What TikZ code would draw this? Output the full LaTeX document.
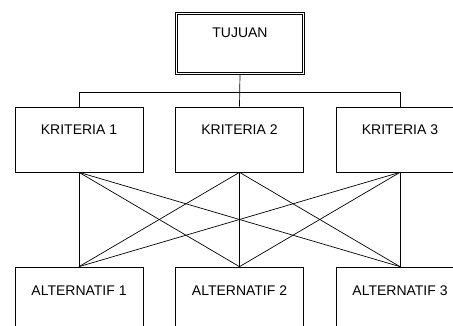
\documentclass[tikz,border=0pt]{standalone}
\usepackage{fontspec}
\setmainfont{Liberation Sans}
\begin{document}
\begin{tikzpicture}[x=1pt, y=-1pt, line width=0.7pt,
	kotak/.style={draw, minimum width=128pt, minimum height=65pt, inner sep=0pt,
		text height=10pt, text depth=19pt, font=\fontsize{14}{16}\selectfont}]
		\useasboundingbox (0,0) rectangle (453,326);
		\clip (0,0) rectangle (453,326);
		
		\node [kotak, double, double distance=1.6pt, minimum width=127pt, minimum height=60pt, text depth=21pt] (tujuan) at (240,43.5) {TUJUAN};
		
		\node [kotak] (k1) at (79,139.5) {KRITERIA 1};
		\node [kotak] (k2) at (239.5,139.5) {KRITERIA 2};
		\node [kotak] (k3) at (400,139.5) {KRITERIA 3};
		
		\node [kotak] (a1) at (79,299.5) {ALTERNATIF 1};
		\node [kotak] (a2) at (239.5,299.5) {ALTERNATIF 2};
		\node [kotak] (a3) at (400,299.5) {ALTERNATIF 3};
		
		\coordinate (bus) at (240,92);
		\draw (tujuan.south) -- (k2.north);
		\draw (k1.north) -- (k1.north |- bus) -- (k3.north |- bus) -- (k3.north);
		
		\foreach \i in {1,2,3}
			\foreach \j in {1,2,3}
				\draw (k\i.south) -- (a\j.north);
		\end{tikzpicture}
\end{document}
